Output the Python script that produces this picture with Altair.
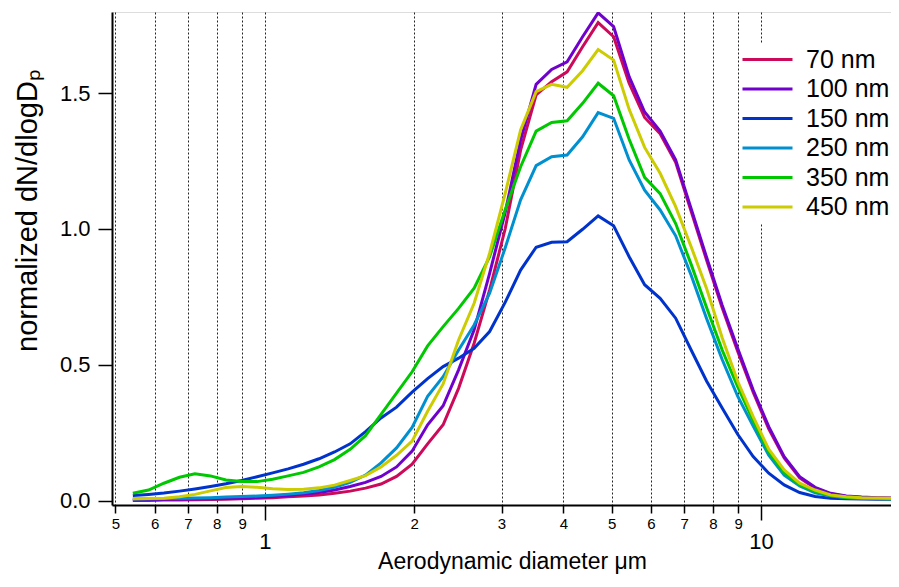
import altair as alt
import pandas as pd

# Aerodynamic diameter channels (um)
diam = [0.542, 0.583, 0.626, 0.673, 0.723, 0.777, 0.835, 0.898, 0.965, 1.037,
        1.114, 1.197, 1.286, 1.382, 1.486, 1.596, 1.715, 1.843, 1.981, 2.129,
        2.288, 2.458, 2.642, 2.839, 3.051, 3.278, 3.523, 3.786, 4.068, 4.371,
        4.698, 5.048, 5.425, 5.829, 6.264, 6.732, 7.234, 7.774, 8.354, 8.977,
        9.647, 10.37, 11.14, 11.97, 12.86, 13.82, 14.86, 15.96, 17.15, 18.43, 19.81]

nm70 = [0.002, 0.002, 0.003, 0.003, 0.004, 0.005, 0.006, 0.008, 0.010, 0.012,
        0.015, 0.018, 0.022, 0.028, 0.036, 0.047, 0.062, 0.090, 0.135, 0.210,
        0.280, 0.414, 0.580, 0.776, 1.000, 1.290, 1.493, 1.542, 1.578, 1.670,
        1.759, 1.707, 1.536, 1.410, 1.350, 1.245, 1.065, 0.885, 0.710, 0.550,
        0.400, 0.265, 0.158, 0.085, 0.047, 0.026, 0.016, 0.013, 0.011, 0.010, 0.010]

nm100 = [0.003, 0.004, 0.005, 0.006, 0.007, 0.008, 0.009, 0.011, 0.013, 0.016,
         0.020, 0.025, 0.031, 0.040, 0.053, 0.068, 0.090, 0.125, 0.183, 0.280,
         0.350, 0.482, 0.629, 0.837, 1.060, 1.327, 1.532, 1.587, 1.615, 1.707,
         1.795, 1.744, 1.560, 1.430, 1.360, 1.254, 1.075, 0.895, 0.720, 0.561,
         0.408, 0.273, 0.163, 0.089, 0.050, 0.028, 0.018, 0.014, 0.012, 0.011, 0.011]

nm150 = [0.020, 0.024, 0.029, 0.036, 0.044, 0.053, 0.063, 0.075, 0.089, 0.103,
         0.118, 0.135, 0.155, 0.180, 0.210, 0.255, 0.305, 0.345, 0.400, 0.450,
         0.494, 0.525, 0.561, 0.623, 0.730, 0.849, 0.933, 0.951, 0.953, 0.999,
         1.048, 1.012, 0.898, 0.795, 0.745, 0.672, 0.555, 0.440, 0.342, 0.245,
         0.163, 0.102, 0.059, 0.031, 0.016, 0.010, 0.008, 0.007, 0.006, 0.006, 0.006]

nm250 = [0.007, 0.008, 0.009, 0.010, 0.011, 0.012, 0.014, 0.016, 0.018, 0.021,
         0.025, 0.030, 0.038, 0.050, 0.068, 0.095, 0.140, 0.195, 0.270, 0.385,
         0.457, 0.555, 0.647, 0.764, 0.930, 1.107, 1.233, 1.266, 1.272, 1.339,
         1.428, 1.407, 1.254, 1.143, 1.070, 0.975, 0.830, 0.670, 0.520, 0.385,
         0.275, 0.168, 0.095, 0.055, 0.030, 0.018, 0.012, 0.010, 0.009, 0.008, 0.008]

nm350 = [0.028, 0.040, 0.065, 0.087, 0.100, 0.092, 0.077, 0.071, 0.071, 0.080,
         0.092, 0.105, 0.125, 0.152, 0.190, 0.240, 0.318, 0.396, 0.475, 0.570,
         0.641, 0.708, 0.782, 0.898, 1.070, 1.229, 1.360, 1.392, 1.398, 1.462,
         1.536, 1.490, 1.330, 1.190, 1.130, 1.020, 0.870, 0.710, 0.555, 0.420,
         0.295, 0.180, 0.105, 0.060, 0.035, 0.020, 0.013, 0.010, 0.009, 0.008, 0.008]

nm450 = [0.008, 0.009, 0.010, 0.015, 0.024, 0.037, 0.049, 0.053, 0.050, 0.045,
         0.042, 0.043, 0.048, 0.058, 0.075, 0.093, 0.125, 0.168, 0.220, 0.330,
         0.430, 0.592, 0.727, 0.911, 1.130, 1.364, 1.505, 1.532, 1.521, 1.582,
         1.660, 1.621, 1.440, 1.300, 1.205, 1.082, 0.935, 0.780, 0.600, 0.440,
         0.310, 0.190, 0.114, 0.065, 0.040, 0.022, 0.015, 0.012, 0.011, 0.010, 0.010]

names = ["70 nm", "100 nm", "150 nm", "250 nm", "350 nm", "450 nm"]
colors = ["#cc0a5a", "#7000cc", "#0033cc", "#0090d0", "#00c800", "#cccc00"]
series = [nm70, nm100, nm150, nm250, nm350, nm450]

xticks = [0.5, 0.6, 0.7, 0.8, 0.9, 1, 2, 3, 4, 5, 6, 7, 8, 9, 10]
yticks = [0, 0.5, 1.0, 1.5]

rows = []
for name, vals in zip(names, series):
    for d, v in zip(diam, vals):
        rows.append({"d": d, "v": v, "series": name})
df = pd.DataFrame(rows)

FONT = "Liberation Sans, Arial, sans-serif"
major = "datum.value == 1 || datum.value == 10"

x_axis = alt.Axis(
    values=xticks,
    labelExpr="datum.value < 1 ? '' + round(datum.value * 10) : '' + datum.value",
    labelOverlap=False, labelFlush=False, labelBound=False,
    grid=True, gridDash=[2, 2], gridColor="#222222", gridWidth=1,
    tickSize={"condition": {"test": major, "value": 15}, "value": 8},
    labelFontSize={"condition": {"test": major, "value": 22}, "value": 15},
    labelPadding={"condition": {"test": major, "value": 11}, "value": 3},
    tickColor="black", tickWidth=1.5, domainColor="black", domainWidth=2,
    labelColor="black", labelFont=FONT,
    title="Aerodynamic diameter \u03bcm", titleFont=FONT, titleFontSize=23,
    titleFontWeight="normal", titleColor="black",
    titleX=400, titleY=63, titleBaseline="alphabetic", titleAlign="center",
)

y_axis = alt.Axis(
    values=yticks, format=".1f", grid=False,
    tickSize=14, tickWidth=1.5, tickColor="black",
    domainColor="black", domainWidth=2,
    labelFontSize=22, labelFont=FONT, labelColor="black", labelPadding=8,
    title="normalized dN/dlogD\u209a", titleFont=FONT, titleFontSize=29,
    titleFontWeight="normal", titleColor="black",
    titleX=-85, titleY=198, titleAngle=270, titleBaseline="middle", titleAlign="center",
)

legend = alt.Legend(
    title=None, orient="none", legendX=639, legendY=31,
    symbolType="M-2.5,0H2.5", symbolSize=400, symbolStrokeWidth=3,
    labelFontSize=25, labelFont=FONT, labelColor="black", labelOffset=26,
    rowPadding=3.5, padding=4, fillColor="white",
)

chart = alt.Chart(df).mark_line(strokeWidth=3, clip=True).encode(
    x=alt.X("d:Q", scale=alt.Scale(type="log", domain=[0.492, 18.29], nice=False), axis=x_axis),
    y=alt.Y("v:Q", scale=alt.Scale(domain=[-0.015, 1.798], nice=False, zero=False), axis=y_axis),
    color=alt.Color("series:N", scale=alt.Scale(domain=names, range=colors), legend=legend),
).properties(
    width=779, height=493,
    padding={"left": 104, "top": 4, "right": 0, "bottom": 69},
    autosize=alt.AutoSizeParams(type="none"),
).configure_view(stroke=None).configure(font=FONT, background="white")

chart.save("out.html", embed_options={"renderer": "svg", "actions": False})
